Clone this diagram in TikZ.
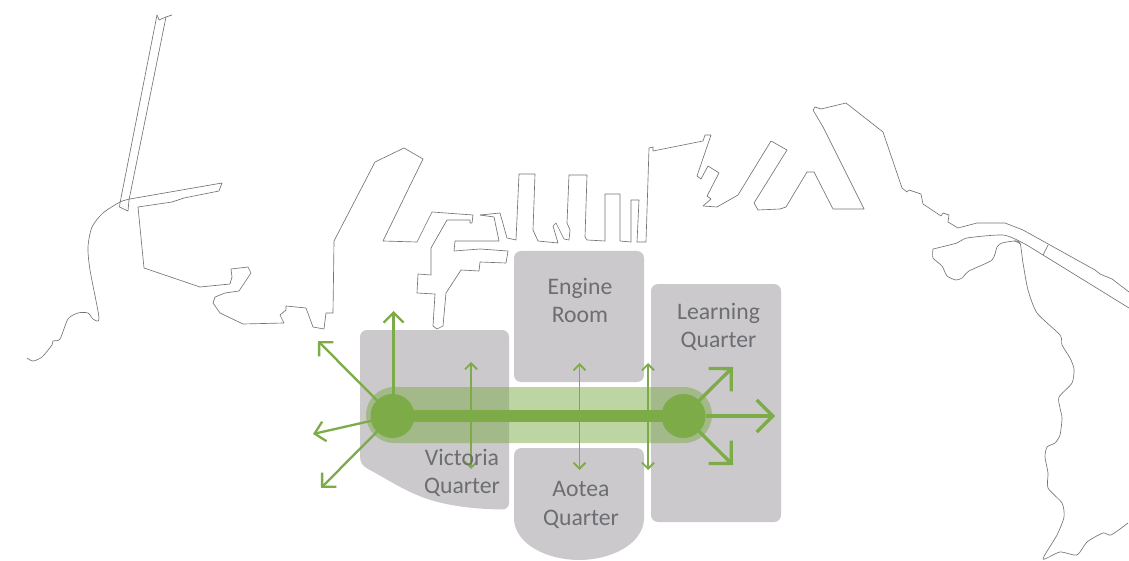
\documentclass[tikz,border=0pt]{standalone}
\usepackage{fontspec}
\setmainfont{Carlito}
\usetikzlibrary{arrows.meta}
\definecolor{qgray}{HTML}{CBC9CC}
\definecolor{qgreen}{HTML}{7CAB48}
\definecolor{qtext}{HTML}{6D6E71}
\definecolor{coast}{HTML}{747474}
\tikzset{
  coastline/.style={draw=coast,line width=0.65pt,line join=round},
  quarter/.style={fill=qgray,rounded corners=7pt},
  qlabel/.style={text=qtext,align=center,font=\fontsize{23.7}{28.5}\selectfont,inner sep=0pt},
  band/.style={fill=qgreen,opacity=.5},
  hub/.style={circle,fill=qgreen,minimum size=44pt,inner sep=0pt},
  thinarrow/.style={draw=qgreen,line width=1.8pt,{Straight Barb[length=6pt,width=12pt]}-{Straight Barb[length=6pt,width=12pt]}},
  midarrow/.style={draw=qgreen,line width=2.3pt,-{Straight Barb[length=10pt,width=20pt]}},
  bigarrow/.style={draw=qgreen,line width=3.3pt,-{Straight Barb[length=16pt,width=32pt]}},
}
\begin{document}
\begin{tikzpicture}[x=1pt,y=-1pt]
\useasboundingbox (0,0) rectangle (1129,561);
\clip (0,0) rectangle (1129,561);
% coast
\draw[coastline] (157,15)--(120,203)--(119.5,207)--(128,211)--(129,200)--(166,17)--(172,15);
\draw[coastline] (157,15)--(159,20)--(166,17);
\draw[coastline] plot[smooth,tension=.45] coordinates {(27,358)(33,361)(42,357)(52,345)(53,341)(60,339)(68,319)(78,313)(88,313)(93,319)(99,318)(90,270)(88,247)(92,227)(103,213)(120,202)(130,199)};
\draw[coastline] (130,199)--(222,183)--(219,191)--(184,198)--(172,202)--(138,207)--(144,268)--(200,287)--(230,284)--(232,277)--(231,269)--(248,267)--(251,273)--(239,291)--(225,293)--(215,297)--(213,303)--(220,313)--(243,324)--(284,323)--(280,315)--(286,310)--(286,306)--(306,308)--(313,327)--(324,329)--(326,313)--(333,313)--(334,241)--(375,162)--(404,148)--(423,159)--(383,241)--(417,242)--(432,212)--(473,215)--(472,223)--(470,223)--(470,220)--(447,220)--(431,248)--(431,275)--(418,274)--(417,293)--(435,294)--(433,326)--(437,329)--(443,326)--(446,293)--(461,270)--(479,271)--(480,262)--(506,263)--(508,251)--(480,249)--(454,251)--(455,241)--(499,241)--(494,217)--(480,215);
\draw[coastline] (480,215)--(500,213)--(507,238)--(516,240)--(519,174)--(535,174)--(533,230)--(538,241)--(558,243)--(553,226)--(556,223)--(564,239)--(569,240)--(570,230)--(567,223)--(569,175)--(587,175)--(585,237)--(587,240)--(605,241)--(605,194)--(620,194)--(620,241)--(631,242)--(631,200)--(639,200)--(637,242)--(646,242)--(649,148)--(653,147)--(653,151)--(703,141)--(705,135)--(711,135)--(697,176)--(701,179)--(708,166)--(719,173)--(707,196)--(711,199)--(703,206)--(717,207)--(738,195)--(771,141)--(787,150)--(754,203)--(758,210)--(780,209)--(786,207)--(807,172)--(814,172)--(833,209)--(864,209)--(823,127)--(813,110)--(815,107)--(821,109)--(846,103)--(883,132)--(902,188)--(907,192)--(909,190)--(921,194)--(923,204)--(941,216)--(943,213)--(949,215)--(948,222)--(958,228)--(977,223)--(1005,223)--(1023,230)--(1095,270)--(1100,274)--(1112,279)--(1129,292);
\draw[coastline] plot[smooth,tension=.4] coordinates {(933,249)(957,243)(967,238)(1003,235)(1023,243)(1043,255)(1129,308)};
\draw[coastline] (1043,255)--(1048,245);
\draw[coastline] plot[smooth,tension=.4] coordinates {(933,249)(933,258)(942,266)(947,276)(956,280)(962,278)(969,271)(992,260)(997,247)(1002,243)(1015,241)(1020,244)};
\draw[coastline] plot[smooth,tension=.4] coordinates {(1014,241)(1020,243)(1023,263)(1028,290)(1037,313)(1060,335)(1062,345)(1070,358)(1074,369)(1072,383)(1059,397)(1060,408)(1062,418)(1060,435)(1055,443)(1047,447)(1045,457)(1048,473)(1048,488)(1062,503)(1064,517)(1057,535)(1043,559)(1060,552)(1077,555)(1087,542)(1103,533)(1111,535)(1128,523)};
% quarters
\fill[qgray] (360,337) .. controls (360,333) and (363,330) .. (367,330) -- (502,330) .. controls (506,330) and (509,333) .. (509,337) -- (509,503) .. controls (509,507) and (506,509.5) .. (502,509.5)
  .. controls (470,509) and (440,505) .. (417,495) .. controls (400,488) and (385,478) .. (368,469) .. controls (363,466) and (360,463) .. (360,456) -- cycle;
\fill[quarter] (514,251) rectangle (644,382);
\fill[quarter] (651,284) rectangle (781,522);
\fill[qgray] (514,456) .. controls (514,451) and (517,448) .. (522,448) -- (636,448) .. controls (641,448) and (644,451) .. (644,456) -- (644,520) .. controls (642,545) and (610,560) .. (579,560) .. controls (548,560) and (516,545) .. (514,520) -- cycle;
% band
\fill[band] (394,387) -- (684,387) arc[start angle=-90,end angle=90,radius=28] -- (394,443) arc[start angle=90,end angle=270,radius=28] -- cycle;
\node[hub] (hubL) at (392.5,416) {};
\node[hub] (hubR) at (683.5,416) {};
\draw[qgreen,line width=12pt] (hubL.center) -- (hubR.center);
% targets
\coordinate (a1) at (318,341);
\coordinate (a2) at (393.5,311);
\coordinate (a3) at (313,434);
\coordinate (a4) at (321,488);
\coordinate (b1) at (733,367);
\coordinate (b2) at (775,416);
\coordinate (b3) at (733,465);
\coordinate (v1) at (471,362);
\coordinate (v2) at (471,469);
\coordinate (w1) at (579.5,363);
\coordinate (w2) at (579.5,470);
\coordinate (x1) at (648,363);
\coordinate (x2) at (648,470);
\draw[midarrow] (hubL) -- (a1);
\draw[midarrow] (hubL.north -| a2) -- (a2);
\draw[midarrow] (hubL) -- (a3);
\draw[midarrow] (hubL) -- (a4);
\draw[bigarrow] (hubR) -- (b1);
\draw[bigarrow] (hubR) -- (b2);
\draw[bigarrow] (hubR) -- (b3);
\draw[thinarrow] (v1) -- (v2);
\draw[thinarrow] (w1) -- (w2);
\draw[thinarrow] (x1) -- (x2);
% labels
\node[qlabel] (vq) at (462,473) {Victoria\\Quarter};
\node[qlabel] (er) at (580,300.5) {Engine\\Room};
\node[qlabel] (lq) at (718.5,327) {Learning\\Quarter};
\node[qlabel] (aq) at (581,505) {Aotea\\Quarter};
\end{tikzpicture}
\end{document}
